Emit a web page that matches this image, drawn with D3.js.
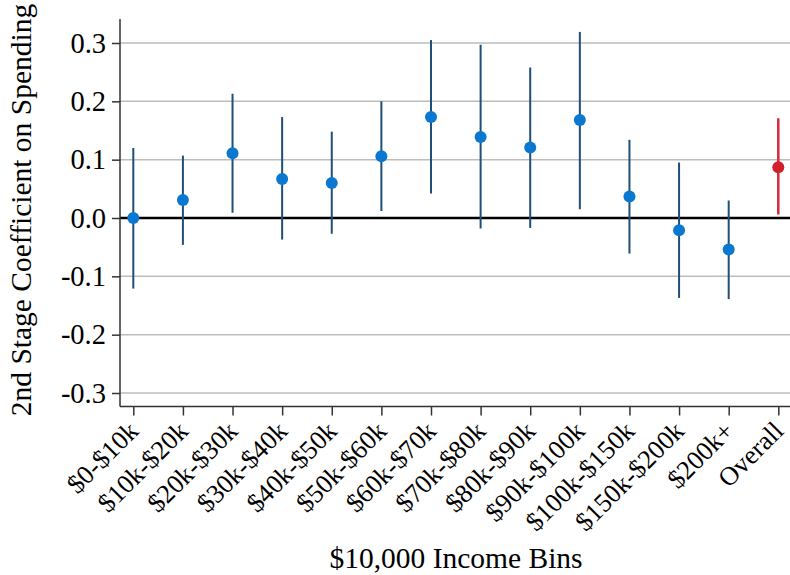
<!DOCTYPE html>
<html>
<head>
<meta charset="utf-8">
<script src="https://cdn.jsdelivr.net/npm/d3@7"></script>
<style>
  body { margin: 0; background: #fff; }
  svg text { font-family: "Liberation Serif", "Times New Roman", serif; }
</style>
</head>
<body>
<svg id="chart" width="790" height="575"></svg>
<script>
const categories = ["$0-$10k","$10k-$20k","$20k-$30k","$30k-$40k","$40k-$50k","$50k-$60k","$60k-$70k","$70k-$80k","$80k-$90k","$90k-$100k","$100k-$150k","$150k-$200k","$200k+","Overall"];
const estimates = [0.000, 0.031, 0.111, 0.067, 0.060, 0.106, 0.173, 0.139, 0.121, 0.168, 0.037, -0.021, -0.054, 0.087];
const ciLow =    [-0.121, -0.046, 0.009, -0.037, -0.027, 0.012, 0.042, -0.018, -0.017, 0.015, -0.061, -0.137, -0.139, 0.006];
const ciHigh =   [0.120, 0.107, 0.213, 0.173, 0.148, 0.200, 0.305, 0.297, 0.258, 0.319, 0.134, 0.095, 0.030, 0.171];
const yTicks = [-0.3, -0.2, -0.1, 0.0, 0.1, 0.2, 0.3];
const xTitle = "$10,000 Income Bins";
const yTitle = "2nd Stage Coefficient on Spending";

const svg = d3.select("#chart");
const mLeft = 120, mRight = 790, mTop = 19, mBottom = 406.5;

const x = d3.scalePoint().domain(categories).range([133.3, 778.3]);
const y = d3.scaleLinear().domain([-0.3, 0.3]).range([393, 43]);

// gridlines
svg.append("g").selectAll("line").data(yTicks.filter(d => d !== 0)).join("line")
  .attr("x1", mLeft).attr("x2", mRight)
  .attr("y1", d => y(d)).attr("y2", d => y(d))
  .attr("stroke", "#bdbdbd").attr("stroke-width", 1.5);

// zero line
svg.append("line").attr("x1", mLeft).attr("x2", mRight)
  .attr("y1", y(0)).attr("y2", y(0))
  .attr("stroke", "#000").attr("stroke-width", 2.5);

// y axis
const yAxis = svg.append("g").attr("transform", `translate(${mLeft},0)`)
  .call(d3.axisLeft(y).tickValues(yTicks).tickFormat(d3.format(".1f")).tickSize(8).tickPadding(6).tickSizeOuter(0));
yAxis.select(".domain").attr("d", `M0,${mTop}V${mBottom}`).attr("stroke", "#333").attr("stroke-width", 1.5);
yAxis.selectAll(".tick line").attr("stroke", "#333").attr("stroke-width", 1.5);
yAxis.selectAll(".tick text").attr("font-size", 28.5).attr("fill", "#000")
  .attr("font-family", "Liberation Serif").text(d => d3.format(".1f")(d).replace("−", "-"));

// x axis
const xAxis = svg.append("g").attr("transform", `translate(0,${mBottom})`)
  .call(d3.axisBottom(x).tickSize(9).tickSizeOuter(0));
xAxis.select(".domain").attr("d", `M${mLeft},0H${mRight}`).attr("stroke", "#333").attr("stroke-width", 1.5);
xAxis.selectAll(".tick line").attr("stroke", "#333").attr("stroke-width", 1.5);
xAxis.selectAll(".tick text").attr("font-size", 26.5).attr("fill", "#000")
  .attr("font-family", "Liberation Serif")
  .attr("text-anchor", "end")
  .attr("transform", "translate(-7,13) rotate(-45)")
  .attr("dy", "0.7em").attr("y", 0).attr("x", 0);

// error bars
svg.append("g").selectAll("line").data(categories).join("line")
  .attr("x1", d => x(d)).attr("x2", d => x(d))
  .attr("y1", (d, i) => y(ciLow[i])).attr("y2", (d, i) => y(ciHigh[i]))
  .attr("stroke", (d, i) => d === "Overall" ? "#d42a3a" : "#1f4e79")
  .attr("stroke-width", (d, i) => d === "Overall" ? 2.5 : 2);

// points
svg.append("g").selectAll("circle").data(categories).join("circle")
  .attr("cx", d => x(d)).attr("cy", (d, i) => y(estimates[i]))
  .attr("r", 6)
  .attr("fill", d => d === "Overall" ? "#d0202e" : "#0a78d0");

// titles
svg.append("text").attr("x", 456).attr("y", 568)
  .attr("text-anchor", "middle").attr("font-size", 29.5).text(xTitle);
svg.append("text").attr("transform", "translate(31,210) rotate(-90)")
  .attr("text-anchor", "middle").attr("font-size", 29.5).text(yTitle);
</script>
</body>
</html>
